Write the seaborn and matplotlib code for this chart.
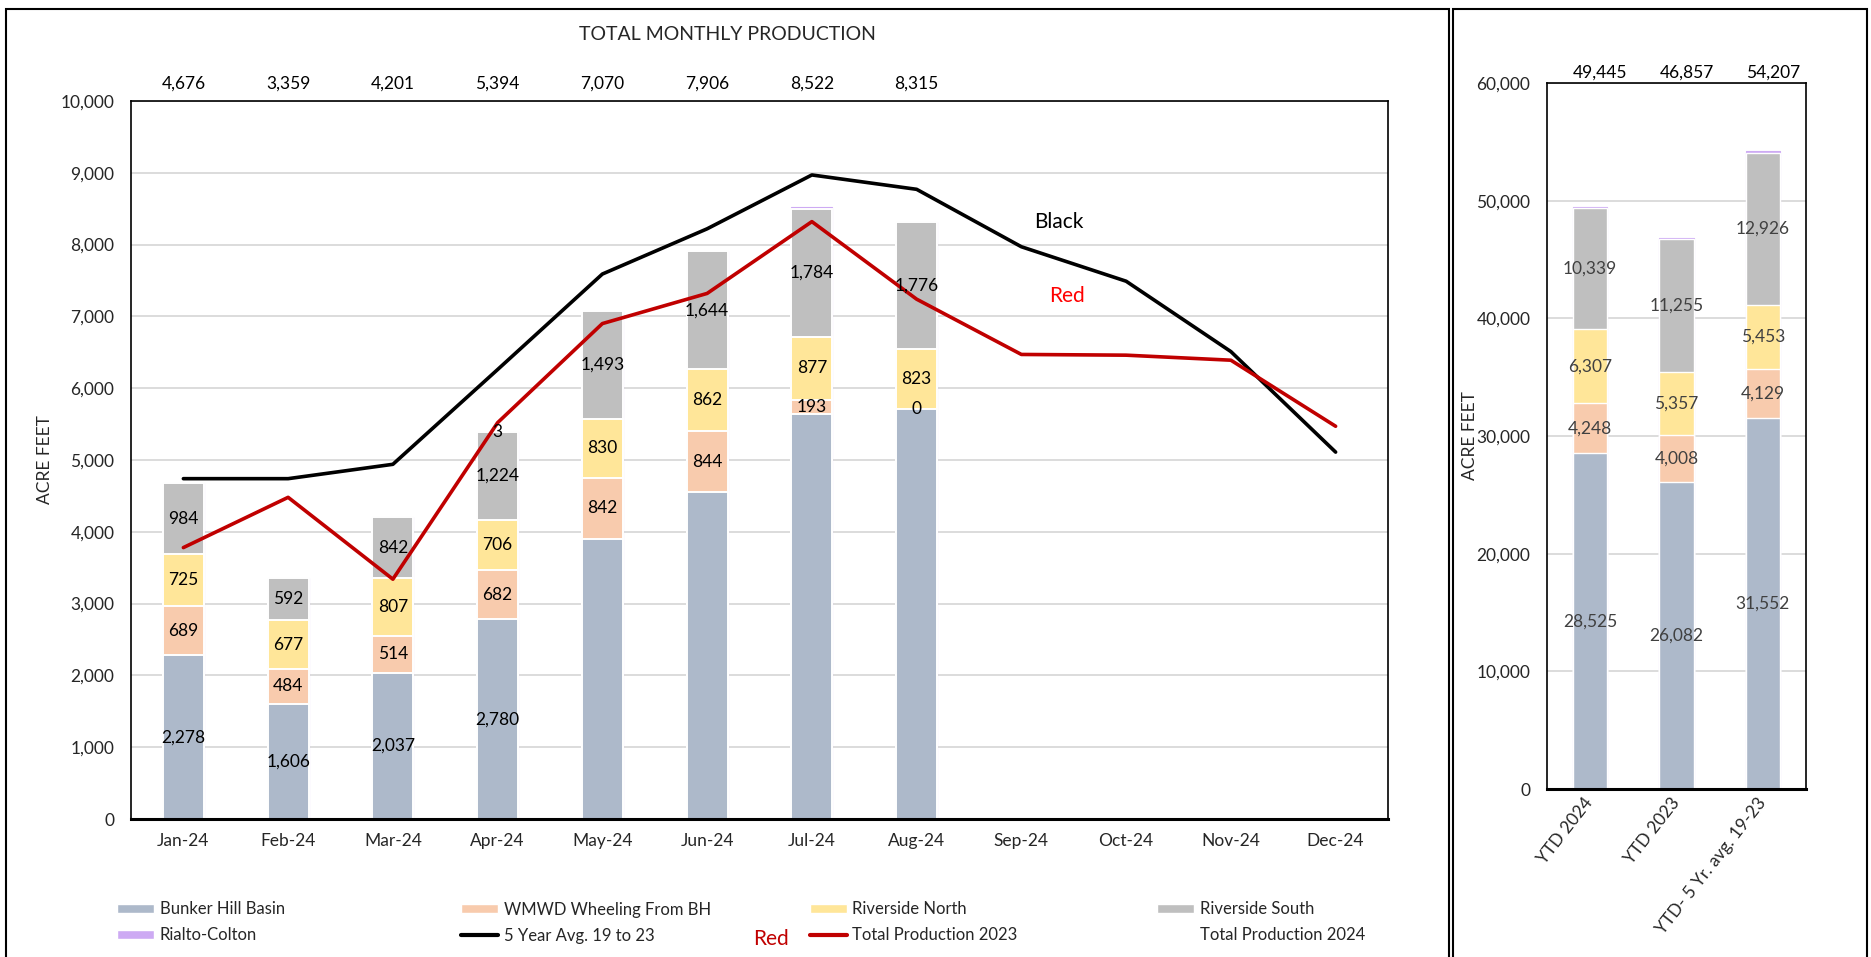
import numpy as np
import pandas as pd
import matplotlib
matplotlib.use("Agg")
import matplotlib.pyplot as plt
from matplotlib.patches import Patch, Rectangle
from matplotlib.lines import Line2D
import matplotlib.transforms as mtransforms
import seaborn as sns

# ---------------- data ----------------
months = ["Jan-24", "Feb-24", "Mar-24", "Apr-24", "May-24", "Jun-24",
          "Jul-24", "Aug-24", "Sep-24", "Oct-24", "Nov-24", "Dec-24"]
bunker_hill = [2278, 1606, 2037, 2780, 3905, 4556, 5643, 5716]
wmwd = [689, 484, 514, 682, 842, 844, 193, 0]
riverside_north = [725, 677, 807, 706, 830, 862, 877, 823]
riverside_south = [984, 592, 842, 1224, 1493, 1644, 1784, 1776]
rialto_colton = [0, 0, 0, 3, 0, 0, 25, 0]
monthly_totals = [4676, 3359, 4201, 5394, 7070, 7906, 8522, 8315]
avg_5yr = [4740, 4740, 4940, 6260, 7590, 8220, 8970, 8770, 7970, 7490, 6510, 5110]
total_2023 = [3780, 4480, 3340, 5520, 6900, 7320, 8320, 7240, 6470, 6460, 6390, 5470]

bh_label_months = ["Jan-24", "Feb-24", "Mar-24", "Apr-24"]
rc_label_months = ["Apr-24"]

ytd_cats = ["YTD 2024", "YTD 2023", "YTD- 5 Yr. avg. 19-23"]
ytd_bh = [28525, 26082, 31552]
ytd_wmwd = [4248, 4008, 4129]
ytd_rn = [6307, 5357, 5453]
ytd_rs = [10339, 11255, 12926]
ytd_rc = [26, 155, 147]
ytd_totals = [49445, 46857, 54207]

# ---------------- style ----------------
sns.set_style("white")
plt.rcParams["font.family"] = ["Lato", "DejaVu Sans"]

C_BH = "#ADB9CA"
C_WM = "#F8CBAD"
C_RN = "#FFE699"
C_RS = "#BFBFBF"
C_RC = "#CDAAF3"
C_RED = "#C00000"
GRID = "#D9D9D9"

FS = 12.5

W, H = 1871, 957
fig = plt.figure(figsize=(W / 100, H / 100), dpi=100)

ax = fig.add_axes([131 / W, 1 - 819 / H, (1388 - 131) / W, (819 - 101) / H])
ax2 = fig.add_axes([1547 / W, 1 - 789 / H, (1806 - 1547) / W, (789 - 83) / H])


def stacked(axis, cats, layers, colors, width, order, lw):
    n = len(layers[0])
    cum = np.zeros(n)
    cums = []
    for lay in layers:
        cum = cum + np.array(lay, dtype=float)
        cums.append(cum.copy())
    # draw tallest first so lower segments overlay it
    for k in range(len(cums) - 1, -1, -1):
        c, col = cums[k], colors[k]
        df = pd.DataFrame({"cat": cats[:n], "val": c})
        top = (k == len(cums) - 1)
        sns.barplot(data=df, x="cat", y="val", order=order, color=col,
                    saturation=1, width=width,
                    edgecolor=col if top else "white",
                    linewidth=0.8 if top else lw,
                    errorbar=None, ax=axis, zorder=2)
    return cums


layers = [bunker_hill, wmwd, riverside_north, riverside_south, rialto_colton]
colors = [C_BH, C_WM, C_RN, C_RS, C_RC]
cums = stacked(ax, months, layers, colors, 0.39, months, 1.4)

# lines
x_idx = np.arange(len(months))
sns.lineplot(x=x_idx, y=avg_5yr, color="black", lw=2.6, ax=ax, legend=False, zorder=4)
sns.lineplot(x=x_idx, y=total_2023, color=C_RED, lw=2.6, ax=ax, legend=False, zorder=4)

# segment labels
for li, lay in enumerate(layers):
    for i, v in enumerate(lay):
        m = months[i]
        if li == 0 and m not in bh_label_months:
            continue
        if li == 4 and m not in rc_label_months:
            continue
        bottom = cums[li][i] - v
        ax.text(i, bottom + v / 2, f"{v:,}", ha="center", va="center",
                fontsize=FS, color="black", zorder=5)

ax.set_xlim(-0.5, len(months) - 0.5)
ax.set_ylim(0, 10000)
ax.set_yticks(np.arange(0, 10001, 1000))
ax.set_yticklabels([f"{v:,}" for v in range(0, 10001, 1000)])
ax.set_xlabel("")
ax.set_ylabel("ACRE FEET", fontsize=FS)
ax.yaxis.set_label_coords(-0.062, 0.5)
ax.yaxis.grid(True, color=GRID, lw=1.3)
ax.xaxis.grid(False)
ax.set_axisbelow(True)
ax.tick_params(axis="both", length=0, labelsize=FS)
ax.tick_params(axis="y", pad=12)
ax.tick_params(axis="x", pad=10)
for s in ["left", "right", "top"]:
    ax.spines[s].set_color("black")
    ax.spines[s].set_linewidth(1.2)
ax.spines["bottom"].set_color("black")
ax.spines["bottom"].set_linewidth(2.2)

# totals above
trans = mtransforms.blended_transform_factory(ax.transData, ax.transAxes)
for i, t in enumerate(monthly_totals):
    ax.text(i, 1.024, f"{t:,}", transform=trans, ha="center", va="center",
            fontsize=FS, color="black")

fig.text(727 / W, 1 - 35 / H, "TOTAL MONTHLY PRODUCTION", ha="center",
         va="center", fontsize=14)

ax.text(0.738, 0.831, "Black", transform=ax.transAxes, ha="center",
        va="center", fontsize=15, color="black")
ax.text(0.745, 0.728, "Red", transform=ax.transAxes, ha="center",
        va="center", fontsize=15, color="#FF0000")

# ---------------- right panel ----------------
ylayers = [ytd_bh, ytd_wmwd, ytd_rn, ytd_rs, ytd_rc]
ycums = stacked(ax2, ytd_cats, ylayers, colors, 0.40, ytd_cats, 1.0)
for li, lay in enumerate(ylayers[:4]):
    for i, v in enumerate(lay):
        bottom = ycums[li][i] - v
        ax2.text(i, bottom + v / 2, f"{v:,}", ha="center", va="center",
                 fontsize=FS, color="#404040", zorder=5)
ax2.set_xlim(-0.5, 2.5)
ax2.set_ylim(0, 60000)
ax2.set_yticks(np.arange(0, 60001, 10000))
ax2.set_yticklabels([f"{v:,}" for v in range(0, 60001, 10000)])
ax2.set_xlabel("")
ax2.set_ylabel("ACRE FEET", fontsize=FS)
ax2.yaxis.set_label_coords(-0.265, 0.5)
ax2.yaxis.grid(True, color=GRID, lw=1.3)
ax2.set_axisbelow(True)
ax2.tick_params(axis="both", length=0, labelsize=FS)
ax2.tick_params(axis="y", pad=12)
ax2.tick_params(axis="x", pad=8)
plt.setp(ax2.get_xticklabels(), rotation=52, ha="right", va="center",
         rotation_mode="anchor")
for s in ["left", "right", "top"]:
    ax2.spines[s].set_color("black")
    ax2.spines[s].set_linewidth(1.2)
ax2.spines["bottom"].set_color("black")
ax2.spines["bottom"].set_linewidth(2.2)
trans2 = mtransforms.blended_transform_factory(ax2.transData, ax2.transAxes)
for i, t in enumerate(ytd_totals):
    ax2.text(i + 0.12, 1.015, f"{t:,}", transform=trans2, ha="center",
             va="center", fontsize=FS, color="black")

# ---------------- legend ----------------
leg_cols = [
    (117, [Patch(facecolor=C_BH), Patch(facecolor=C_RC)],
     ["Bunker Hill Basin", "Rialto-Colton"]),
    (461, [Patch(facecolor=C_WM), Line2D([], [], color="black", lw=3)],
     ["WMWD Wheeling From BH", "5 Year Avg. 19 to 23"]),
    (810, [Patch(facecolor=C_RN), Line2D([], [], color=C_RED, lw=3)],
     ["Riverside North", "Total Production 2023"]),
    (1157, [Patch(facecolor=C_RS), Line2D([], [], color="none", lw=0)],
     ["Riverside South", "Total Production 2024"]),
]
for xpx, hs, ls in leg_cols:
    fig.legend(hs, ls, loc="center left", bbox_to_anchor=(xpx / W, 1 - 922.5 / H),
               frameon=False, fontsize=12, handlelength=2.2, handleheight=0.5,
               handletextpad=0.35, labelspacing=0.6, borderpad=0,
               borderaxespad=0)

fig.text(771 / W, 1 - 939 / H, "Red", ha="center", va="center", fontsize=15,
         color=C_RED)

# frames
fig.add_artist(Rectangle((6 / W, -0.02), (1449 - 6) / W, 1.02 - 9 / H,
                         transform=fig.transFigure, fill=False, ec="black", lw=1.5))
fig.add_artist(Rectangle((1453 / W, -0.02), (1867 - 1453) / W, 1.02 - 9 / H,
                         transform=fig.transFigure, fill=False, ec="black", lw=1.5))

fig.savefig("out.png", dpi=100)
